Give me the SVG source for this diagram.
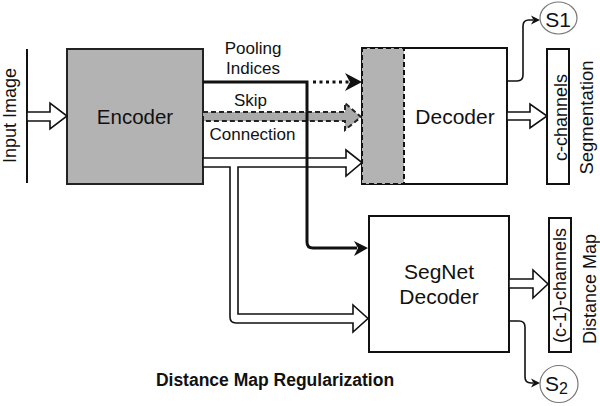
<svg xmlns="http://www.w3.org/2000/svg" width="600" height="406" viewBox="0 0 600 406">
<style>
text{font-family:"Liberation Sans",Arial,sans-serif;fill:#111}
.lbl{font-size:17px;text-anchor:middle}
.big{font-size:21px;text-anchor:middle}
.rot{font-size:18px;text-anchor:middle}
.box{fill:#fff;stroke:#111;stroke-width:2}
.hollow{fill:#fff;stroke:#111;stroke-width:1.6;stroke-linejoin:miter}
.thin{fill:none;stroke:#111;stroke-width:1.6}
.head{fill:#111;stroke:none}
.circ{fill:#fff;stroke:#777;stroke-width:1.2}
</style>
<rect width="600" height="406" fill="#fff"/>

<g id="input">
  <line x1="27" y1="49" x2="27" y2="183" stroke="#111" stroke-width="2"/>
  <text class="rot" transform="translate(16,115.5) rotate(-90)">Input Image</text>
</g>

<g id="encoder">
  <rect x="67" y="49" width="136" height="135" fill="#b3b3b3" stroke="#222" stroke-width="2"/>
  <text x="135" y="124" class="big" style="font-size:20.5px">Encoder</text>
</g>

<g id="decoder">
  <rect x="362" y="48" width="145" height="136" class="box"/>
  <rect x="362" y="48" width="42" height="136" fill="#b3b3b3" stroke="#111" stroke-width="2" stroke-dasharray="5,3"/>
  <text x="455" y="124" class="big">Decoder</text>
</g>

<g id="segnet">
  <rect x="369" y="216" width="140" height="136" class="box"/>
  <text x="439" y="279" class="big">SegNet</text>
  <text x="439" y="304" class="big">Decoder</text>
</g>

<g id="cchannels">
  <rect x="547" y="49" width="22" height="135" class="box"/>
  <text class="rot" transform="translate(566.5,117.5) rotate(-90)">c-channels</text>
  <text class="rot" style="font-size:18.5px" transform="translate(593,117.5) rotate(-90)">Segmentation</text>
</g>

<g id="c1channels">
  <rect x="549" y="218" width="22" height="134" class="box"/>
  <text class="rot" transform="translate(566,285.5) rotate(-90)">(c-1)-channels</text>
  <text class="rot" transform="translate(596,289) rotate(-90)">Distance Map</text>
</g>

<g id="s1">
  <ellipse cx="558.5" cy="18" rx="18.5" ry="16" class="circ"/>
  <text x="558" y="27" style="font-size:21px;text-anchor:middle">S1</text>
</g>

<g id="s2">
  <ellipse cx="559" cy="384" rx="19" ry="18.5" class="circ"/>
  <text x="545" y="391" style="font-size:21px">S</text>
  <text x="559" y="394" style="font-size:16px">2</text>
</g>

<g id="title">
  <text x="275" y="386" style="font-size:17.5px;font-weight:bold;text-anchor:middle">Distance Map Regularization</text>
</g>

<g id="labels">
  <text x="253" y="54" class="lbl">Pooling</text>
  <text x="253" y="74" class="lbl">Indices</text>
  <text x="250.5" y="106" class="lbl">Skip</text>
  <text x="252.5" y="140" class="lbl">Connection</text>
</g>

<g id="connectors">
  <!-- input arrow -->
  <path class="hollow" d="M27,112 H50 V103 L67,116 L50,129 V121 H27 Z"/>
  <!-- skip connection (gray dashed) -->
  <path d="M203,112 H345 V103 L361,117 L345,130 V121 H203 Z" fill="#aaa" stroke="#222" stroke-width="2" stroke-dasharray="5,3"/>
  <!-- encoder to decoder and segnet (hollow) -->
  <path class="hollow" d="M203,158 H346 V150 L362,162.5 L346,176 V167 H238 V314 H353 V305 L368,318.5 L353,332 V323 H236 Q230,323 230,317 V167 H203 Z"/>
  <!-- pooling indices -->
  <path d="M203,82 H307 V242 Q307,248 313,248 H357" fill="none" stroke="#111" stroke-width="3"/>
  <path class="head" d="M368,248 L354,241 L358,248 L354,256 Z"/>
  <line x1="313" y1="82" x2="349" y2="82" stroke="#111" stroke-width="3" stroke-dasharray="3,3.5"/>
  <path class="head" d="M362,82 L345,73 L350,82 L345,91 Z"/>
  <!-- decoder output -->
  <path class="hollow" d="M507,112 H530 V104 L547,116 L530,128 V120 H507 Z"/>
  <!-- segnet output -->
  <path class="hollow" d="M509,279 H533 V270 L548,284 L533,298 V288 H509 Z"/>
  <!-- S1 -->
  <path class="thin" d="M507,81 H517 Q523,81 523,75 V26 Q523,20 529,20 H533"/>
  <path class="head" d="M540,20 L531,15.5 L533.5,20 L531,24.5 Z"/>
  <!-- S2 -->
  <path class="thin" d="M509,321 H519 Q525,321 525,327 V377 Q525,383 531,383 H533"/>
  <path class="head" d="M540,383 L531,378.5 L533.5,383 L531,387.5 Z"/>
</g>
</svg>
